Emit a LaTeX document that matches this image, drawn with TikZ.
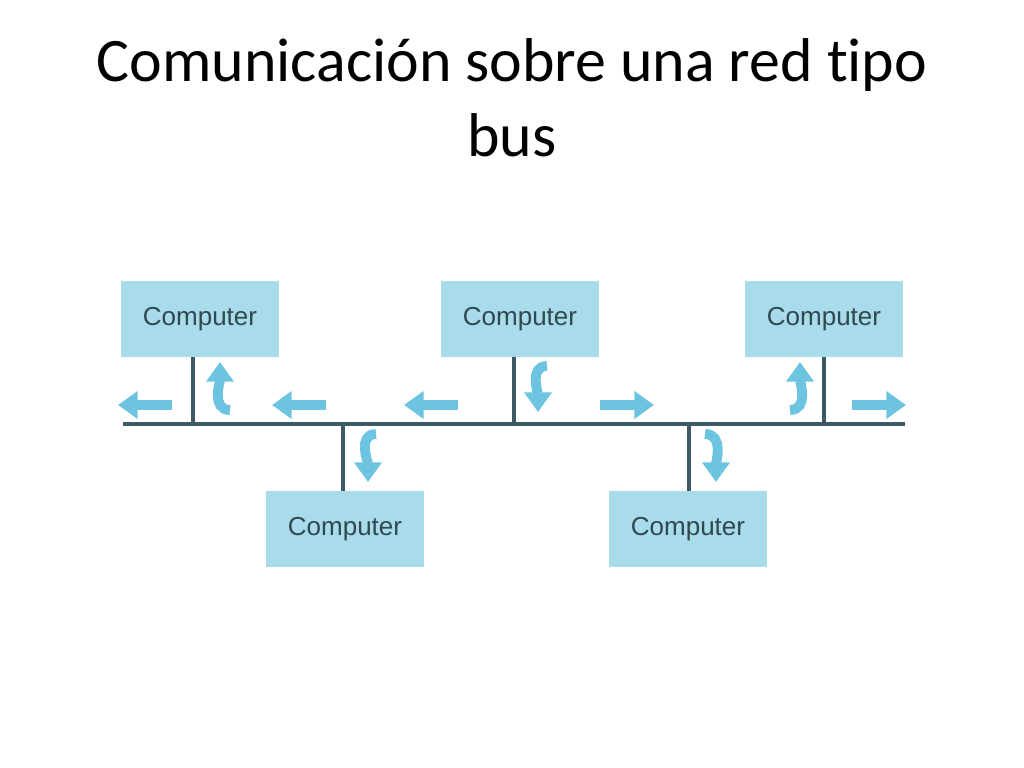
\documentclass[tikz,border=0pt]{standalone}
\usepackage{fontspec}
\setmainfont{Carlito}[Ligatures=NoCommon]
\newfontfamily\labelfont{Liberation Sans}
\usetikzlibrary{arrows.meta}
\definecolor{boxblue}{HTML}{A8DCEA}
\definecolor{busgray}{HTML}{3D5A64}
\definecolor{flowblue}{HTML}{6CC4E0}
\tikzset{
  computer/.style={fill=boxblue, minimum width=158*0.025cm, minimum height=76*0.025cm,
    inner sep=0pt, font=\labelfont\fontsize{18.5}{22}\selectfont, text=busgray!80!black},
  busline/.style={draw=busgray, line width=2.6pt},
  flow/.style={draw=flowblue, line width=7pt, -{Triangle[length=14pt,width=19pt]}}
}
\begin{document}
\begin{tikzpicture}[x=0.025cm, y=-0.025cm]
\useasboundingbox (0,0) rectangle (1024,768);
% title
\node (title) at (512,98) [align=center, font=\fontsize{44}{53}\selectfont]
  {Comunicación sobre una red tipo\\bus};
% computers
\node [computer] (c1) at (200,319) {Computer};
\node [computer] (c2) at (520,319) {Computer};
\node [computer] (c3) at (824,319) {Computer};
\node [computer] (c4) at (345,529) {Computer};
\node [computer] (c5) at (688,529) {Computer};
% bus
\coordinate (busL) at (123,424);
\coordinate (busR) at (905,424);
\draw [busline] (busL) -- (busR);
\draw [busline] (c1.south -| 193,0) -- (193,424);
\draw [busline] (c2.south -| 514,0) -- (514,424);
\draw [busline] (c3.south -| 824,0) -- (824,424);
\draw [busline] (c4.north -| 343,0) -- (343,424);
\draw [busline] (c5.north -| 689,0) -- (689,424);
% message flow
\draw [flow] (172,405) -- (118,405);
\draw [flow] (326,405) -- (272,405);
\draw [flow] (458,405) -- (404,405);
\draw [flow] (600,405) -- (654,405);
\draw [flow] (852,405) -- (906,405);
\draw [flow] (230,410) to[out=180,in=-90] (220,362);
\draw [flow] (547,366) to[out=180,in=90] (538,412);
\draw [flow] (376,434) to[out=180,in=90] (368,482);
\draw [flow] (705,434) to[out=0,in=90] (716,482);
\draw [flow] (790,410) to[out=0,in=-90] (800,362);
\end{tikzpicture}
\end{document}
